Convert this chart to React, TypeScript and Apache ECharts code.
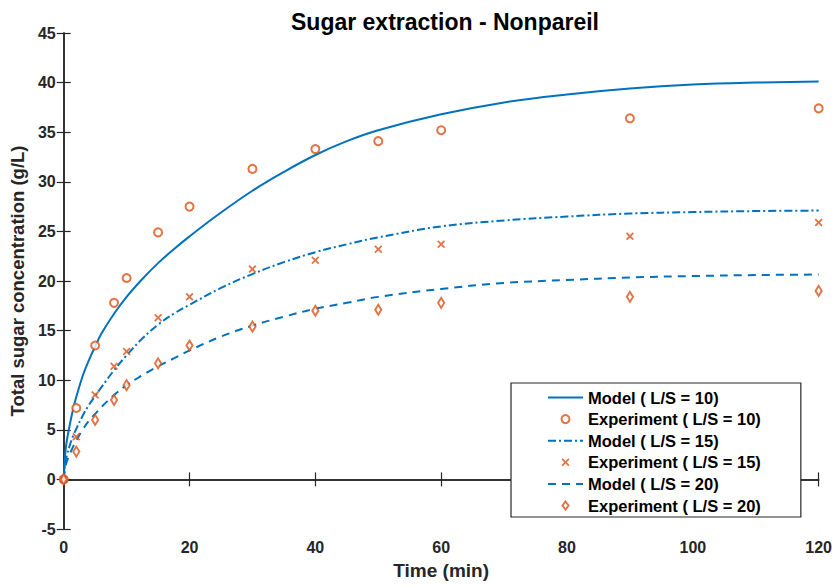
import React, { useEffect, useRef } from "react";
import * as echarts from "echarts";

// Experiment sampling times (min)
const expTime = [0, 2, 5, 8, 10, 15, 20, 30, 40, 50, 60, 90, 120];
const exp10 = [0, 7.2, 13.5, 17.8, 20.3, 24.9, 27.5, 31.3, 33.3, 34.1, 35.2, 36.4, 37.4];
const exp15 = [0, 4.3, 8.5, 11.4, 12.9, 16.3, 18.4, 21.2, 22.1, 23.2, 23.7, 24.5, 25.9];
const exp20 = [0, 2.8, 6.0, 8.0, 9.5, 11.7, 13.5, 15.4, 17.0, 17.1, 17.8, 18.4, 19.0];

// Model curves
const modelTime = [0, 0.25, 0.5, 1, 1.5, 2, 3, 4, 5, 6, 8, 10, 12.5, 15, 17.5, 20, 25, 30, 35, 40, 45, 50, 60, 70, 80, 90, 100, 110, 120];
const model10 = [0, 2.6, 3.9, 5.6, 7.1, 8.3, 10.4, 12.0, 13.4, 14.7, 16.7, 18.4, 20.2, 21.8, 23.2, 24.5, 26.9, 29.1, 31.0, 32.7, 34.1, 35.2, 36.8, 38.0, 38.8, 39.4, 39.8, 40.0, 40.1];
const model15 = [0, 1.7, 2.4, 3.5, 4.4, 5.1, 6.4, 7.5, 8.4, 9.3, 11.0, 12.5, 14.2, 15.6, 16.7, 17.6, 19.3, 20.7, 21.9, 22.9, 23.7, 24.4, 25.5, 26.1, 26.5, 26.8, 26.95, 27.05, 27.1];
const model20 = [0, 1.2, 1.8, 2.6, 3.3, 3.9, 5.0, 5.9, 6.6, 7.3, 8.5, 9.5, 10.5, 11.4, 12.2, 13.0, 14.4, 15.5, 16.4, 17.2, 17.8, 18.4, 19.2, 19.8, 20.1, 20.35, 20.5, 20.6, 20.65];

const xTicks = { min: 0, max: 120, interval: 20 };
const yTicks = { min: -5, max: 45, interval: 5 };

const BLUE = "#0072BD";
const ORANGE = "#D95319";
const AX = "#262626";
const FONT = "'Liberation Sans', Arial, Helvetica, sans-serif";

const pairs = (t: number[], v: number[]) => t.map((x, i) => [x, v[i]]);

const crossPath =
  "path://M0,1.6L1.6,0L5,3.4L8.4,0L10,1.6L6.6,5L10,8.4L8.4,10L5,6.6L1.6,10L0,8.4L3.4,5Z";
const diamondPath = "path://M5,0L10,6.5L5,13L0,6.5Z";

const names = [
  "Model ( L/S = 10)",
  "Experiment ( L/S = 10)",
  "Model ( L/S = 15)",
  "Experiment ( L/S = 15)",
  "Model ( L/S = 20)",
  "Experiment ( L/S = 20)",
];

export default function App() {
  const ref = useRef<HTMLDivElement>(null);
  useEffect(() => {
    if (!ref.current) return;
    const chart = echarts.init(ref.current, undefined, { renderer: "svg" });
    const axisCommon = {
      axisLine: { show: true, lineStyle: { color: AX, width: 1.5 } },
      axisTick: { show: true, inside: true, length: 7, lineStyle: { color: AX, width: 1.2 } },
      splitLine: { show: false },
    };
    const lineSeries = (name: string, data: number[], type: any) => ({
      name,
      type: "line",
      data: pairs(modelTime, data),
      symbol: "none",
      smooth: 0.4,
      lineStyle: { color: BLUE, width: 2, type },
      itemStyle: { color: BLUE },
      z: 2,
    });
    const scatterSeries = (name: string, data: number[], symbol: string, size: any, hollow: boolean) => ({
      name,
      type: "scatter",
      data: pairs(expTime, data),
      symbol,
      symbolSize: size,
      symbolKeepAspect: true,
      itemStyle: hollow
        ? { color: "#ffffff", borderColor: ORANGE, borderWidth: 2 }
        : { color: ORANGE },
      z: 3,
    });
    chart.setOption({
      animation: false,
      backgroundColor: "#ffffff",
      textStyle: { fontFamily: FONT },
      grid: { left: 61, top: 33, width: 759, height: 496, containLabel: false },
      xAxis: [
        {
          type: "value",
          ...xTicks,
          position: "bottom",
          ...axisCommon,
          axisLabel: { color: AX, fontSize: 16, fontWeight: "bold", fontFamily: FONT, margin: 10 },
          name: "Time (min)",
          nameLocation: "middle",
          nameGap: 32,
          nameTextStyle: { color: AX, fontSize: 19, fontWeight: "bold", fontFamily: FONT },
        },
        {
          type: "value",
          ...xTicks,
          position: "top",
          ...axisCommon,
          axisLabel: { show: false },
        },
      ],
      yAxis: [
        {
          type: "value",
          ...yTicks,
          position: "left",
          ...axisCommon,
          axisLabel: { color: AX, fontSize: 16, fontWeight: "bold", fontFamily: FONT, margin: 8 },
          name: "Total sugar concentration (g/L)",
          nameLocation: "middle",
          nameGap: 31,
          nameTextStyle: { color: AX, fontSize: 18.5, fontWeight: "bold", fontFamily: FONT },
        },
        {
          type: "value",
          ...yTicks,
          position: "right",
          ...axisCommon,
          axisLabel: { show: false },
        },
      ],
      title: {
        text: "Sugar extraction - Nonpareil",
        left: 440,
        top: 5,
        textAlign: "center",
        textStyle: { color: "#000000", fontSize: 23, fontWeight: "bold", fontFamily: FONT },
      },
      legend: {
        orient: "vertical",
        left: 511,
        top: 383,
        padding: [5, 40, 2, 36],
        itemWidth: 35,
        itemHeight: 8,
        itemGap: 2.6,
        itemTextGap: 5,
        symbolKeepAspect: true,
        backgroundColor: "#ffffff",
        borderColor: AX,
        borderWidth: 1.2,
        borderRadius: 0,
        textStyle: { color: "#000000", fontSize: 16.5, fontWeight: "bold", fontFamily: FONT, lineHeight: 19 },
        data: names.map((n, i) =>
          i % 2 === 0 ? { name: n, itemStyle: { opacity: 0 } } : { name: n }
        ),
      },
      series: [
        lineSeries(names[0], model10, "solid"),
        scatterSeries(names[1], exp10, "circle", 8, true),
        lineSeries(names[2], model15, [8, 3, 2, 3]),
        scatterSeries(names[3], exp15, crossPath, 8, false),
        lineSeries(names[4], model20, [8, 6]),
        scatterSeries(names[5], exp20, diamondPath, [8, 10], true),
      ],
    });
    return () => chart.dispose();
  }, []);
  return (
    <div
      ref={ref}
      style={{ position: "fixed", left: 0, top: 0, width: 835, height: 586, background: "#fff" }}
    />
  );
}
